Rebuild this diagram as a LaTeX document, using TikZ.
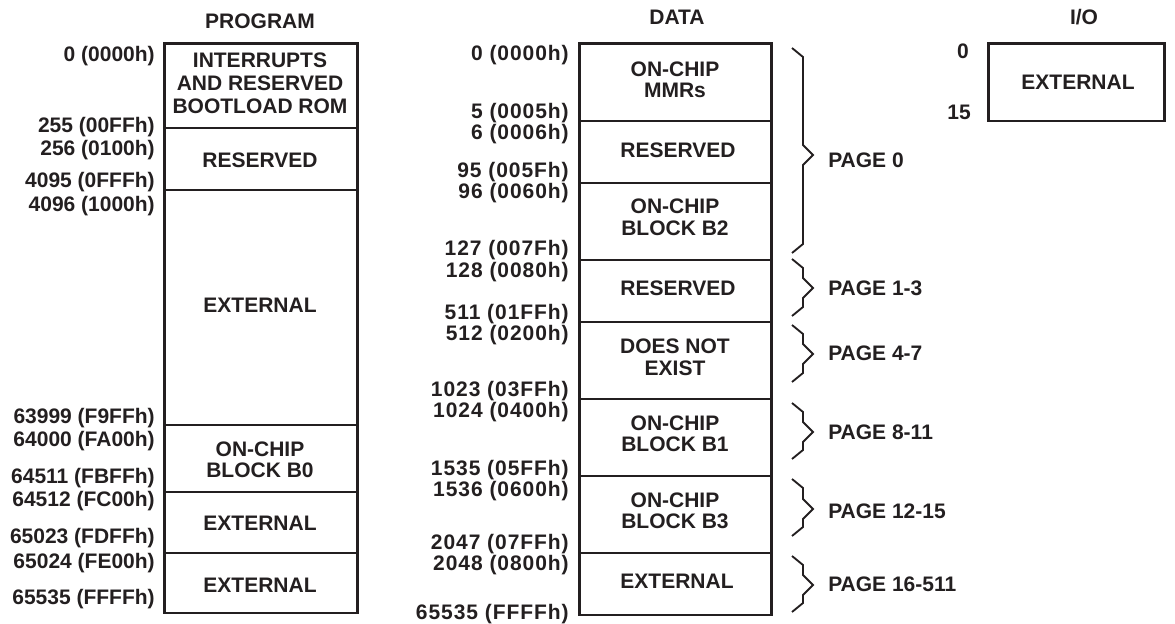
\documentclass[tikz,border=0pt]{standalone}
\usepackage{fontspec}
\setmainfont{Liberation Sans}[BoldFont={Liberation Sans Bold}]
\newfontfamily\trackfont{Liberation Sans Bold}[LetterSpace=4.5]
\definecolor{ink}{HTML}{231F20}
\tikzset{
  txt/.style={inner sep=0pt,text=ink,font=\fontsize{15.75pt}{18pt}\selectfont\bfseries},
  cellt/.style={txt,anchor=base},
  addrp/.style={txt,anchor=base east},
  addrd/.style={txt,anchor=base east,font=\fontsize{15.75pt}{18pt}\trackfont},
  pagel/.style={txt,anchor=base west},
  cellbox/.style={draw=ink,line width=1.6pt,rectangle,inner sep=0pt,outer sep=0pt},
  brace/.style={draw=ink,line width=1.4pt,line join=miter},
}
\newcommand{\cellbox}[5]{\node[cellbox,anchor=north west,minimum width=#4*0.75pt-#2*0.75pt,minimum height=#5*0.75pt-#3*0.75pt] (#1) at (#2,#3) {};}
\newcommand{\bracepath}[3]{\draw[brace] (792,#1) -- (803,#1+9) -- (803,#3-10) -- (813,#3) -- (803,#3+10) -- (803,#2-9) -- (792,#2);}
\begin{document}
\begin{tikzpicture}[x=0.75pt,y=-0.75pt]
\useasboundingbox (0,0) rectangle (1175,624);
% PROGRAM
\cellbox{p1}{164.5}{43.5}{357.5}{128}
\cellbox{p2}{164.5}{128}{357.5}{190}
\cellbox{p3}{164.5}{190}{357.5}{425}
\cellbox{p4}{164.5}{425}{357.5}{492}
\cellbox{p5}{164.5}{492}{357.5}{553}
\cellbox{p6}{164.5}{553}{357.5}{613}
\node[cellt] (ph) at (260,29) {PROGRAM};
\node[cellt] (pt1a) at (260,68) {INTERRUPTS};
\node[cellt] (pt1b) at (260,91) {AND RESERVED};
\node[cellt] (pt1c) at (260,114) {BOOTLOAD ROM};
\node[cellt] (pt2) at (260,168) {RESERVED};
\node[cellt] (pt3) at (260,312) {EXTERNAL};
\node[cellt] (pt4a) at (260,456) {ON-CHIP};
\node[cellt] (pt4b) at (260,477) {BLOCK B0};
\node[cellt] (pt5) at (260,530) {EXTERNAL};
\node[cellt] (pt6) at (260,592) {EXTERNAL};
\node[addrp] (pa1) at (155,62) {0 (0000h)};
\node[addrp] (pa2) at (155,133) {255 (00FFh)};
\node[addrp] (pa3) at (155,156) {256 (0100h)};
\node[addrp] (pa4) at (155,188) {4095 (0FFFh)};
\node[addrp] (pa5) at (155,212) {4096 (1000h)};
\node[addrp] (pa6) at (155,423) {63999 (F9FFh)};
\node[addrp] (pa7) at (155,446) {64000 (FA00h)};
\node[addrp] (pa8) at (155,483) {64511 (FBFFh)};
\node[addrp] (pa9) at (155,506) {64512 (FC00h)};
\node[addrp] (pa10) at (155,543) {65023 (FDFFh)};
\node[addrp] (pa11) at (155,568) {65024 (FE00h)};
\node[addrp] (pa12) at (155,604) {65535 (FFFFh)};
% DATA
\cellbox{d1}{579.5}{43.5}{771.5}{121}
\cellbox{d2}{579.5}{121}{771.5}{183}
\cellbox{d3}{579.5}{183}{771.5}{260}
\cellbox{d4}{579.5}{260}{771.5}{322}
\cellbox{d5}{579.5}{322}{771.5}{399}
\cellbox{d6}{579.5}{399}{771.5}{476}
\cellbox{d7}{579.5}{476}{771.5}{553}
\cellbox{d8}{579.5}{553}{771.5}{615}
\node[cellt] (dh) at (677,25) {DATA};
\node[cellt] (dt1a) at (675,77) {ON-CHIP};
\node[cellt] (dt1b) at (675,98) {MMRs};
\node[cellt] (dt2) at (678,158) {RESERVED};
\node[cellt] (dt3a) at (675,214) {ON-CHIP};
\node[cellt] (dt3b) at (675,236) {BLOCK B2};
\node[cellt] (dt4) at (678,296) {RESERVED};
\node[cellt] (dt5a) at (675,353) {DOES NOT};
\node[cellt] (dt5b) at (675,375) {EXIST};
\node[cellt] (dt6a) at (675,430) {ON-CHIP};
\node[cellt] (dt6b) at (675,451) {BLOCK B1};
\node[cellt] (dt7a) at (675,507) {ON-CHIP};
\node[cellt] (dt7b) at (675,528) {BLOCK B3};
\node[cellt] (dt8) at (677,588) {EXTERNAL};
\node[addrd] (da1) at (569,61) {0 (0000h)};
\node[addrd] (da2) at (569,119) {5 (0005h)};
\node[addrd] (da3) at (569,140) {6 (0006h)};
\node[addrd] (da4) at (569,178) {95 (005Fh)};
\node[addrd] (da5) at (569,199) {96 (0060h)};
\node[addrd] (da6) at (569,256) {127 (007Fh)};
\node[addrd] (da7) at (569,277) {128 (0080h)};
\node[addrd] (da8) at (569,319) {511 (01FFh)};
\node[addrd] (da9) at (569,340) {512 (0200h)};
\node[addrd] (da10) at (569,396) {1023 (03FFh)};
\node[addrd] (da11) at (569,417) {1024 (0400h)};
\node[addrd] (da12) at (569,475) {1535 (05FFh)};
\node[addrd] (da13) at (569,496) {1536 (0600h)};
\node[addrd] (da14) at (569,549) {2047 (07FFh)};
\node[addrd] (da15) at (569,570) {2048 (0800h)};
\node[addrd] (da16) at (569,619) {65535 (FFFFh)};
% braces
\bracepath{48}{253}{155}
\bracepath{259}{316}{288}
\bracepath{325}{382}{354}
\bracepath{403}{459}{432}
\bracepath{479}{536}{509}
\bracepath{556}{612}{585}
\node[pagel] (pg1) at (828,168) {PAGE 0};
\node[pagel] (pg2) at (828,295) {PAGE 1-3};
\node[pagel] (pg3) at (828,360) {PAGE 4-7};
\node[pagel] (pg4) at (828,439) {PAGE 8-11};
\node[pagel] (pg5) at (828,518) {PAGE 12-15};
\node[pagel] (pg6) at (828,591) {PAGE 16-511};
% I/O
\cellbox{io}{988.5}{43.5}{1164.5}{121}
\node[cellt] (ioh) at (1084,25) {I/O};
\node[cellt] (iot) at (1078,90) {EXTERNAL};
\node[addrp] (ioa) at (969,59) {0};
\node[addrp] (iob) at (971,120) {15};
\end{tikzpicture}
\end{document}
